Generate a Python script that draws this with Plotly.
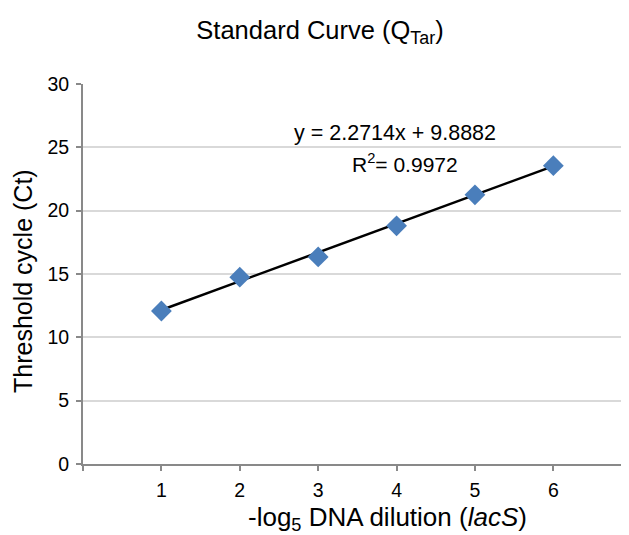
import plotly.graph_objects as go

dilution = [1, 2, 3, 4, 5, 6]
ct_values = [12.08, 14.75, 16.35, 18.8, 21.25, 23.55]
slope = 2.2714
intercept = 9.8882
r_squared = 0.9972
y_ticks = [0, 5, 10, 15, 20, 25, 30]
x_ticks = [1, 2, 3, 4, 5, 6]

font = "Liberation Sans, Arial, sans-serif"

# page has an 8px body margin; figure sized to fill the 629x535 window
OFF = 8
W, H = 629 - OFF, 535 - OFF
ML, MR, MT, MB = 83 - OFF, 0, 84 - OFF, 535 - 464
PW = W - ML - MR
PH = H - MT - MB


def paper_x(sx):
    return (sx - OFF - ML) / PW


def paper_y(sy):
    return 1 - (sy - OFF - MT) / PH


fit_x = [min(dilution), max(dilution)]
fit_y = [slope * v + intercept for v in fit_x]

fig = go.Figure()
fig.add_trace(go.Scatter(x=fit_x, y=fit_y, mode="lines",
                         line=dict(color="black", width=2.5), showlegend=False))
fig.add_trace(go.Scatter(x=dilution, y=ct_values, mode="markers",
                         marker=dict(symbol="diamond", size=16, color="#4a7ebb"),
                         showlegend=False))

fig.add_annotation(x=paper_x(395), y=paper_y(133), xref="paper", yref="paper",
                   xanchor="center", yanchor="middle", showarrow=False,
                   text=f"y = {slope}x + {intercept}",
                   font=dict(family=font, size=21.5, color="#000"))
fig.add_annotation(x=paper_x(405), y=paper_y(163), xref="paper", yref="paper",
                   xanchor="center", yanchor="middle", showarrow=False,
                   text=f"R<sup>2</sup>= {r_squared}",
                   font=dict(family=font, size=21, color="#000"))

# axis titles as annotations for exact placement
fig.add_annotation(x=paper_x(23), y=paper_y(281), xref="paper", yref="paper",
                   xanchor="center", yanchor="middle", showarrow=False,
                   text="Threshold cycle (Ct)", textangle=-90,
                   font=dict(family=font, size=25, color="#000"))
fig.add_annotation(x=paper_x(387), y=paper_y(518), xref="paper", yref="paper",
                   xanchor="center", yanchor="middle", showarrow=False,
                   text="-log<sub>5</sub> DNA dilution (<i>lacS</i>)",
                   font=dict(family=font, size=26, color="#000"))

fig.update_layout(
    width=W, height=H,
    margin=dict(l=ML, r=MR, t=MT, b=MB),
    paper_bgcolor="white", plot_bgcolor="white",
    title=dict(text="Standard Curve (Q<sub>Tar</sub>)",
               x=(320 - OFF) / W, xanchor="center",
               y=1 - (30 - OFF) / H, yanchor="middle",
               font=dict(family=font, size=25.5, color="#000")),
    font=dict(family=font, color="#000"),
)

fig.update_xaxes(
    range=[0, 6.965], tickmode="array", automargin=False,
    tickvals=[0] + x_ticks, ticktext=[""] + [str(v) for v in x_ticks],
    ticks="outside", ticklen=5, tickwidth=2, tickcolor="#898989",
    showline=True, linecolor="#898989", linewidth=2,
    showgrid=False, zeroline=False, ticklabelstandoff=3,
    tickfont=dict(family=font, size=19.5, color="#000"),
)
fig.update_yaxes(
    range=[0, 30], tickmode="array", tickvals=y_ticks, automargin=False,
    ticks="outside", ticklen=5, tickwidth=2, tickcolor="#898989",
    showline=True, linecolor="#898989", linewidth=2, ticklabelstandoff=3,
    showgrid=True, gridcolor="#d9d9d9", gridwidth=2, zeroline=False,
    tickfont=dict(family=font, size=19.5, color="#000"),
)

fig.write_html("out.html")
